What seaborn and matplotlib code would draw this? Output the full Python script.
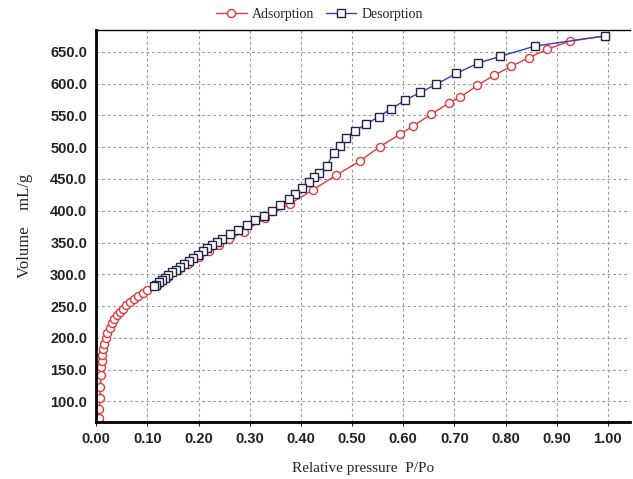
import matplotlib
matplotlib.use("Agg")
import matplotlib.pyplot as plt
import seaborn as sns
import pandas as pd
from matplotlib.ticker import FormatStrFormatter

# Adsorption branch (relative pressure, volume mL/g)
ads_p = [0.005, 0.006, 0.006, 0.007, 0.007, 0.008, 0.008, 0.009, 0.009, 0.010,
         0.011, 0.012, 0.014, 0.016, 0.019, 0.022, 0.026, 0.030, 0.035, 0.040,
         0.046, 0.052, 0.059, 0.066, 0.074, 0.082, 0.091, 0.100,
         0.120, 0.140, 0.160, 0.180, 0.200, 0.220, 0.240, 0.260, 0.288, 0.330,
         0.379, 0.424, 0.469, 0.515, 0.555, 0.593, 0.619, 0.655, 0.689, 0.712,
         0.745, 0.777, 0.811, 0.846, 0.882, 0.926, 0.995]
ads_v = [74, 83, 92, 101, 110, 119, 128, 137, 146, 155,
         164, 173, 182, 191, 200, 208, 216, 223, 229, 236,
         241, 246, 251, 256, 261, 266, 271, 276,
         285, 296, 307, 317, 327, 337, 346, 355, 367, 388,
         411, 433, 456, 478, 501, 520, 533, 552, 569, 579,
         597, 613, 627, 641, 654, 667, 675]

# Desorption branch
des_p = [0.995, 0.858, 0.790, 0.746, 0.704, 0.665, 0.633, 0.604, 0.576, 0.552,
         0.528, 0.506, 0.489, 0.476, 0.464, 0.451, 0.436, 0.425, 0.415, 0.402,
         0.389, 0.376, 0.359, 0.343, 0.327, 0.311, 0.294, 0.278, 0.262, 0.245,
         0.236, 0.226, 0.217, 0.208, 0.199, 0.190, 0.181, 0.172, 0.164, 0.156,
         0.148, 0.141, 0.134, 0.128, 0.122, 0.117, 0.112]
des_v = [675, 659, 643, 632, 616, 599, 586, 574, 560, 548,
         536, 526, 515, 502, 491, 471, 460, 453, 446, 435,
         427, 418, 409, 400, 392, 385, 378, 370, 364, 356,
         351, 346, 341, 336, 331, 326, 321, 316, 311, 307,
         303, 299, 295, 291, 288, 284, 281]

x_ticks = [0.0, 0.1, 0.2, 0.3, 0.4, 0.5, 0.6, 0.7, 0.8, 0.9, 1.0]
y_ticks = [100, 150, 200, 250, 300, 350, 400, 450, 500, 550, 600, 650]

sns.set_style("white")

fig = plt.figure(figsize=(6.33, 4.79), dpi=100)
ax = fig.add_axes([0.152, 0.118, 0.843, 0.819])

ads = pd.DataFrame({"p": ads_p, "v": ads_v})
des = pd.DataFrame({"p": des_p, "v": des_v})

sns.lineplot(data=ads, x="p", y="v", sort=False, ax=ax, color="#e23a3a",
             linewidth=1.0, marker="o", markersize=5.8, markerfacecolor="white",
             markeredgecolor="#e23a3a", markeredgewidth=1.0, label="Adsorption")
sns.lineplot(data=des, x="p", y="v", sort=False, ax=ax, color="#3a3ac0",
             linewidth=1.0, marker="s", markersize=5.8, markerfacecolor="white",
             markeredgecolor="#23234a", markeredgewidth=1.0, label="Desorption")

ax.set_xlim(0, 1.043)
ax.set_ylim(67, 684)
ax.set_xticks(x_ticks)
ax.set_yticks(y_ticks)
ax.xaxis.set_major_formatter(FormatStrFormatter("%.2f"))
ax.yaxis.set_major_formatter(FormatStrFormatter("%.1f"))

ax.grid(True, linestyle=(0, (2.5, 2.5)), color="#9a9a9a", linewidth=0.8)
ax.tick_params(axis="both", direction="out", length=3, width=0.8,
               bottom=True, left=False, labelsize=10.5, colors="#222222")
for lab in ax.get_xticklabels() + ax.get_yticklabels():
    lab.set_fontfamily("Liberation Sans")
    lab.set_fontweight("bold")

for side in ["left", "bottom"]:
    ax.spines[side].set_linewidth(2.0)
    ax.spines[side].set_color("black")
ax.spines["top"].set_linewidth(1.0)
ax.spines["top"].set_color("black")
ax.spines["right"].set_visible(False)

ax.set_xlabel("Relative pressure  P/Po", fontfamily="Liberation Serif",
              fontsize=11, labelpad=12)
ax.set_ylabel("Volume    mL/g", fontfamily="Liberation Serif",
              fontsize=12, labelpad=12)

ax.legend(loc="center", bbox_to_anchor=(0.505, 0.969),
          bbox_transform=fig.transFigure, ncol=2, frameon=False,
          prop={"family": "Liberation Serif", "size": 10},
          handlelength=2.2, columnspacing=0.8, handletextpad=0.4)

fig.savefig("out.png", dpi=100)
